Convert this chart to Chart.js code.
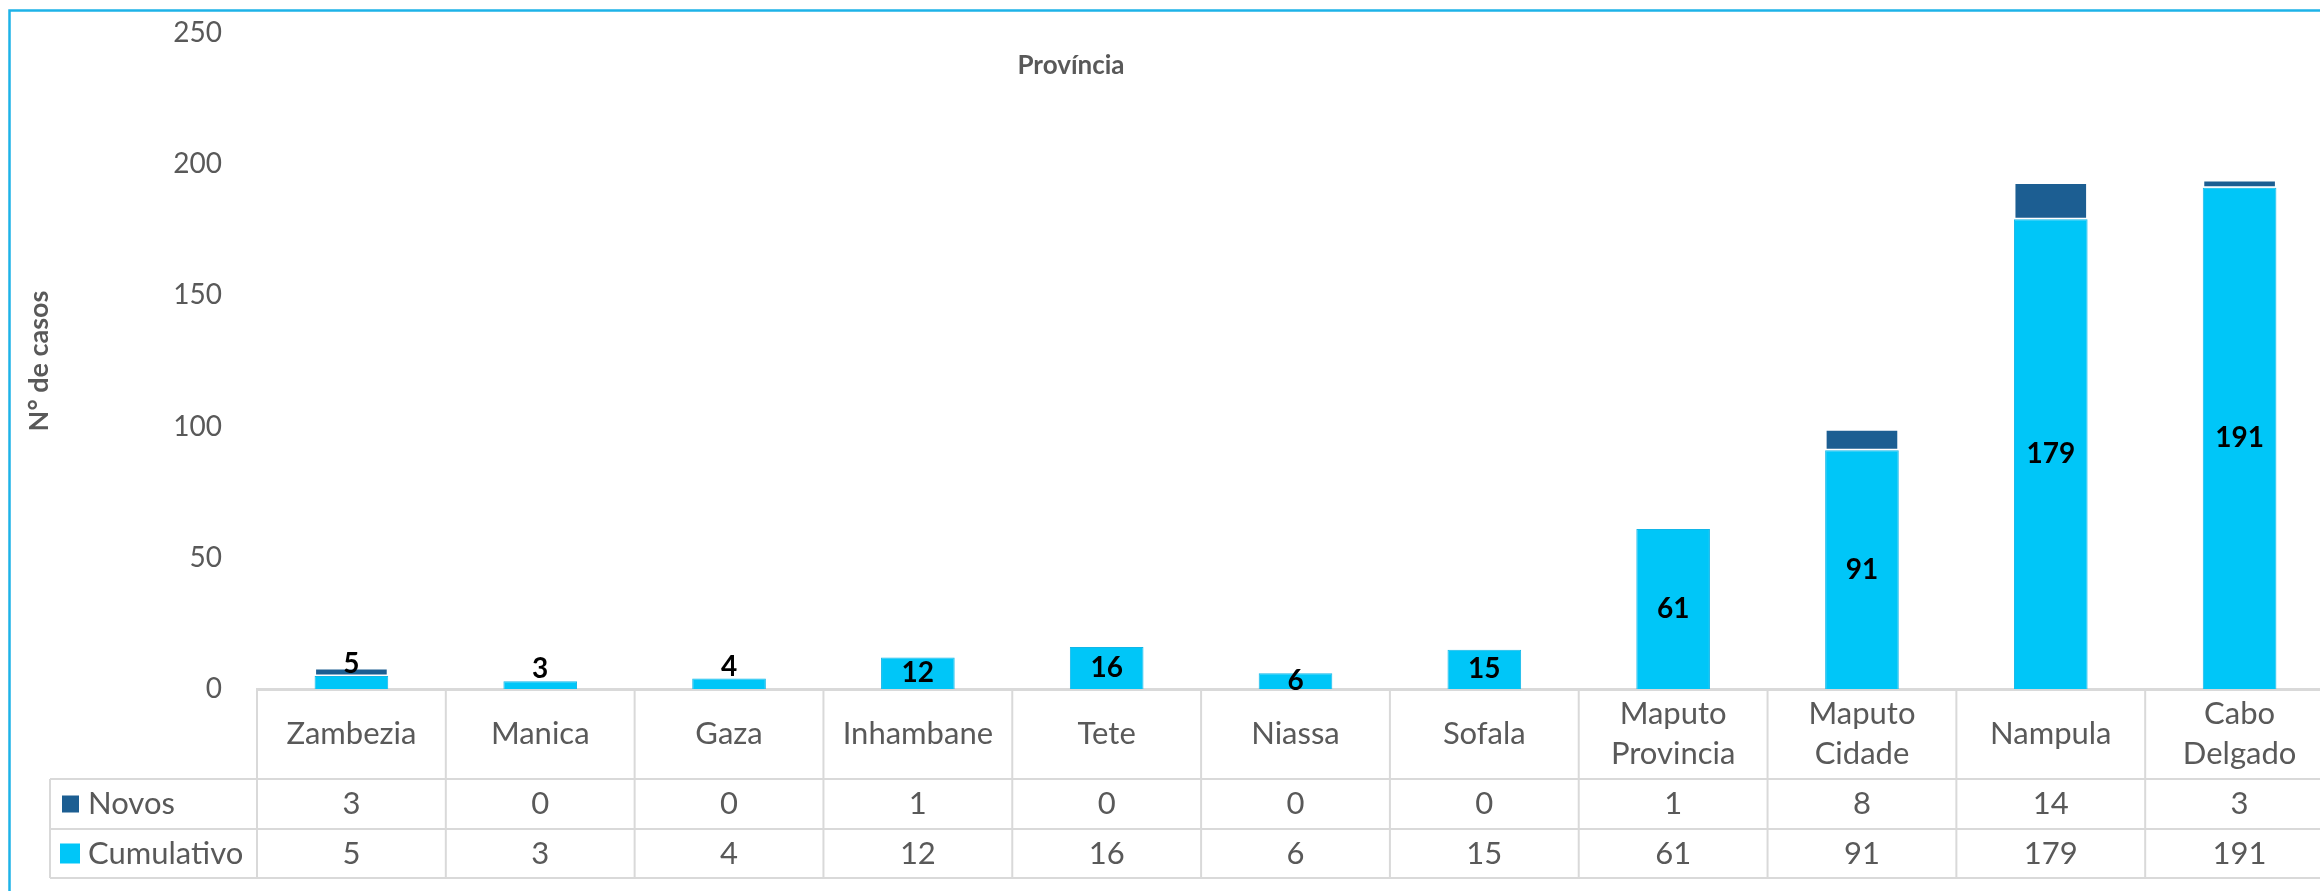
<!DOCTYPE html>
<html>
<head>
<meta charset="utf-8">
<title>Casos por Província</title>
<script src="https://cdn.jsdelivr.net/npm/chart.js@4.4.0/dist/chart.umd.min.js"></script>
<style>
  html, body { margin: 0; padding: 0; background: #fff; overflow: hidden; }
  #wrap { position: relative; width: 2320px; height: 891px; overflow: hidden; }
  #wrap canvas { position: absolute; left: 0; top: 0; }
</style>
</head>
<body>
<div id="wrap"><canvas id="chart" width="2340" height="891"></canvas></div>
<script>
// ─── DATA ─────────────────────────────────────────────────────────────────────
const CATEGORIES = ['Zambezia', 'Manica', 'Gaza', 'Inhambane', 'Tete', 'Niassa', 'Sofala',
  ['Maputo', 'Provincia'], ['Maputo', 'Cidade'], 'Nampula', ['Cabo', 'Delgado']];
const NOVOS = [3, 0, 0, 1, 0, 0, 0, 1, 8, 14, 3];
const CUMULATIVO = [5, 3, 4, 12, 16, 6, 15, 61, 91, 179, 191];
const Y_TICKS = [0, 50, 100, 150, 200, 250];
const TITLE = 'Província';
const Y_TITLE = 'N° de casos';

// ─── STYLE ────────────────────────────────────────────────────────────────────
const FONT = 'Lato';
const GREY = '#595959';
const LINE = '#D9D9D9';
const C_CUM = '#00C6F8';
const C_NEW = '#1C5E92';

function hline(ctx, x1, x2, y) { ctx.beginPath(); ctx.moveTo(x1, y); ctx.lineTo(x2, y); ctx.stroke(); }
function vline(ctx, x, y1, y2) { ctx.beginPath(); ctx.moveTo(x, y1); ctx.lineTo(x, y2); ctx.stroke(); }

// ─── PLUGINS ──────────────────────────────────────────────────────────────────
const framePlugin = {
  id: 'frame',
  afterDraw(chart) {
    const ctx = chart.ctx;
    ctx.save();
    ctx.strokeStyle = '#1EB3E8';
    ctx.lineWidth = 2.5;
    ctx.beginPath();
    ctx.moveTo(9.5, chart.height);
    ctx.lineTo(9.5, 10.5);
    ctx.lineTo(chart.width, 10.5);
    ctx.stroke();
    // title
    ctx.fillStyle = GREY;
    ctx.font = 'bold 26px ' + FONT;
    ctx.textAlign = 'center';
    ctx.textBaseline = 'middle';
    ctx.fillText(TITLE, 1071, 66);
    ctx.restore();
  }
};

const labelPlugin = {
  id: 'barLabels',
  afterDatasetsDraw(chart) {
    const ctx = chart.ctx;
    const meta = chart.getDatasetMeta(0);
    ctx.save();
    ctx.fillStyle = '#000';
    ctx.font = 'bold 28px ' + FONT;
    ctx.textAlign = 'center';
    ctx.textBaseline = 'middle';
    meta.data.forEach((bar, i) => {
      const h = bar.base - bar.y;
      const y = h < 14 ? bar.y - 12 : (bar.y + bar.base) / 2;
      ctx.fillText(String(CUMULATIVO[i]), bar.x, y);
    });
    ctx.restore();
  }
};

const tablePlugin = {
  id: 'dataTable',
  afterDraw(chart) {
    const { ctx, chartArea: a, scales: { x } } = chart;
    const n = CATEGORIES.length;
    const w = (a.right - a.left) / n;
    const top = a.bottom;
    const r1 = top + 90, r2 = r1 + 50, r3 = r2 + 49;
    const tableLeft = 50;
    ctx.save();
    ctx.strokeStyle = LINE;
    ctx.lineWidth = 2;
    for (let i = 0; i <= n; i++) vline(ctx, a.left + i * w, top, r3);
    hline(ctx, tableLeft, a.right, r1);
    hline(ctx, tableLeft, a.right, r2);
    hline(ctx, tableLeft, a.right, r3);
    vline(ctx, tableLeft, r1, r3);

    ctx.fillStyle = GREY;
    ctx.font = '31px ' + FONT;
    ctx.textAlign = 'center';
    ctx.textBaseline = 'middle';
    CATEGORIES.forEach((c, i) => {
      const cx = x.getPixelForValue(i);
      const lines = Array.isArray(c) ? c : [c];
      const mid = (top + r1) / 2;
      lines.forEach((t, k) => ctx.fillText(t, cx, mid + (k - (lines.length - 1) / 2) * 40));
      ctx.fillText(String(NOVOS[i]), cx, (r1 + r2) / 2);
      ctx.fillText(String(CUMULATIVO[i]), cx, (r2 + r3) / 2);
    });

    // legend keys in the first column
    ctx.textAlign = 'left';
    ctx.fillStyle = C_NEW;
    ctx.fillRect(62, (r1 + r2) / 2 - 8.5, 17, 17);
    ctx.fillStyle = C_CUM;
    ctx.fillRect(60, (r2 + r3) / 2 - 10, 20, 20);
    ctx.fillStyle = GREY;
    ctx.fillText(chart.data.datasets[1].label, 88, (r1 + r2) / 2);
    ctx.fillText(chart.data.datasets[0].label, 88, (r2 + r3) / 2);
    ctx.restore();
  }
};

// ─── CHART ────────────────────────────────────────────────────────────────────
new Chart(document.getElementById('chart'), {
  type: 'bar',
  data: {
    labels: CATEGORIES,
    datasets: [
      { label: 'Cumulativo', data: CUMULATIVO, backgroundColor: C_CUM, borderColor: '#12B6E8', borderWidth: 1,
        barPercentage: 0.39, categoryPercentage: 1 },
      { label: 'Novos', data: NOVOS, backgroundColor: C_NEW, borderColor: '#fff', borderWidth: 1.5, borderSkipped: false,
        barPercentage: 0.39, categoryPercentage: 1 }
    ]
  },
  options: {
    responsive: false,
    animation: false,
    layout: { padding: { top: 33, right: 6, bottom: 202, left: 0 } },
    plugins: { legend: { display: false }, title: { display: false }, tooltip: { enabled: false } },
    scales: {
      x: {
        stacked: true,
        grid: { display: false },
        ticks: { display: false },
        border: { display: true, color: LINE, width: 3 },
        afterFit: s => { s.height = 0; }
      },
      y: {
        stacked: true,
        min: Y_TICKS[0],
        max: Y_TICKS[Y_TICKS.length - 1],
        grid: { display: false },
        border: { display: false },
        ticks: { stepSize: Y_TICKS[1] - Y_TICKS[0], padding: 27, color: GREY, font: { family: FONT, size: 28 } },
        title: { display: true, text: Y_TITLE, color: GREY, font: { family: FONT, size: 27, weight: 'bold' },
          padding: { top: 23, bottom: 0 } },
        afterFit: s => { s.width = 257; s.paddingTop = 0; s.paddingBottom = 0; }
      }
    }
  },
  plugins: [labelPlugin, tablePlugin, framePlugin]
});
</script>
</body>
</html>
